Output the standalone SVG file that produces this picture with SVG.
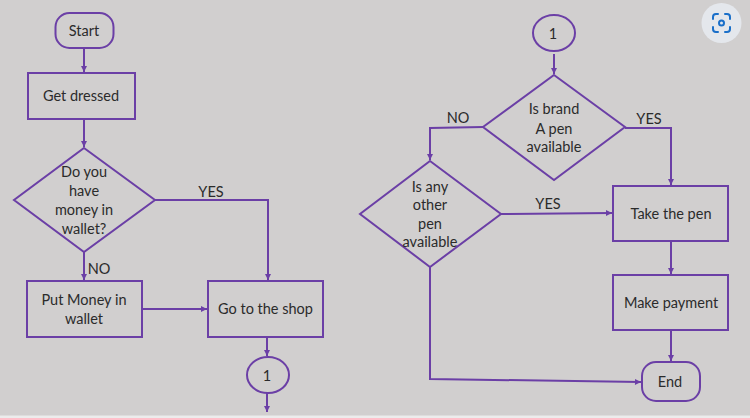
<svg xmlns="http://www.w3.org/2000/svg" width="750" height="418" viewBox="0 0 750 418">
<style>
.s{fill:none;stroke:#6b3fa6;stroke-width:2}
.c{fill:none;stroke:#6b3fa6;stroke-width:2}
text{font-family:"Lato","Liberation Sans",sans-serif;font-size:14.500px;fill:#2b2b2b;text-anchor:middle}
</style>
<defs>
<marker id="a" markerUnits="userSpaceOnUse" markerWidth="8" markerHeight="8" refX="7" refY="4" orient="auto"><path d="M1 1L7 4L1 7Z" fill="#6b3fa6"/></marker>
</defs>
<rect width="750" height="418" fill="#d1cfcf"/>
<rect y="415.500" width="750" height="2.500" fill="#ececec"/>
<g id="connectors">
<path class="c" marker-end="url(#a)" d="M84 48V72"/>
<path class="c" marker-end="url(#a)" d="M84 119V147"/>
<path class="c" marker-end="url(#a)" d="M155 200H268V280"/>
<path class="c" marker-end="url(#a)" d="M84 252V280"/>
<path class="c" marker-end="url(#a)" d="M142 309H207"/>
<path class="c" marker-end="url(#a)" d="M267 337V356"/>
<path class="c" marker-end="url(#a)" d="M267 393V412"/>
<path class="c" marker-end="url(#a)" d="M554 54V74"/>
<path class="c" marker-end="url(#a)" d="M483 127L430 128V160"/>
<path class="c" marker-end="url(#a)" d="M625 128H671V185"/>
<path class="c" marker-end="url(#a)" d="M501 214L612 213"/>
<path class="c" marker-end="url(#a)" d="M671 241V274"/>
<path class="c" marker-end="url(#a)" d="M671 330V361"/>
<path class="c" marker-end="url(#a)" d="M430 267V379L641 382"/>
</g>
<g id="start"><rect class="s" x="55.500" y="13" width="58" height="35" rx="14"/><text x="84" y="36">Start</text></g>
<g id="get-dressed"><rect class="s" x="28" y="73" width="107" height="46"/><text x="81" y="101">Get dressed</text></g>
<g id="money-decision"><path class="s" d="M84 148L155 200L84 252L14 200Z"/><text x="84" y="177">Do you</text><text x="84" y="196">have</text><text x="84" y="215">money in</text><text x="84" y="234">wallet?</text></g>
<g id="put-money"><rect class="s" x="27" y="281" width="115" height="56"/><text x="84" y="305">Put Money in</text><text x="84" y="324">wallet</text></g>
<g id="go-shop"><rect class="s" x="208" y="281" width="115" height="56"/><text x="265.500" y="314">Go to the shop</text></g>
<g id="connector-a"><ellipse class="s" cx="268" cy="375" rx="21" ry="18"/><text x="267" y="381">1</text></g>
<g id="connector-b"><ellipse class="s" cx="554" cy="33" rx="21" ry="18"/><text x="553" y="39">1</text></g>
<g id="brand-decision"><path class="s" d="M554 75L625 127L554 180L483 127Z"/><text x="554" y="114">Is brand</text><text x="554" y="134">A pen</text><text x="554" y="152">available</text></g>
<g id="other-decision"><path class="s" d="M430 161L501 214L430 267L360 214Z"/><text x="430" y="192">Is any</text><text x="430" y="210">other</text><text x="430" y="229">pen</text><text x="430" y="247">available</text></g>
<g id="take-pen"><rect class="s" x="613" y="186" width="115" height="55"/><text x="671" y="219">Take the pen</text></g>
<g id="make-payment"><rect class="s" x="613" y="275" width="115" height="55"/><text x="671" y="308">Make payment</text></g>
<g id="end"><rect class="s" x="642" y="362" width="58" height="39" rx="14"/><text x="670" y="387">End</text></g>
<g id="labels"><text x="211" y="197">YES</text><text x="99" y="274">NO</text><text x="458" y="123">NO</text><text x="649" y="124">YES</text><text x="548" y="209">YES</text></g>
<circle cx="721.500" cy="23" r="20" fill="#e4e7ec"/>
<g fill="none" stroke="#1a6fc9" stroke-width="2" stroke-linecap="round"><path d="M713 19V17Q713 14 716 14H718M725 14H727Q730 14 730 17V19M730 27V29Q730 32 727 32H725M718 32H716Q713 32 713 29V27"/><circle cx="721.500" cy="23" r="2.500"/></g>
</svg>
